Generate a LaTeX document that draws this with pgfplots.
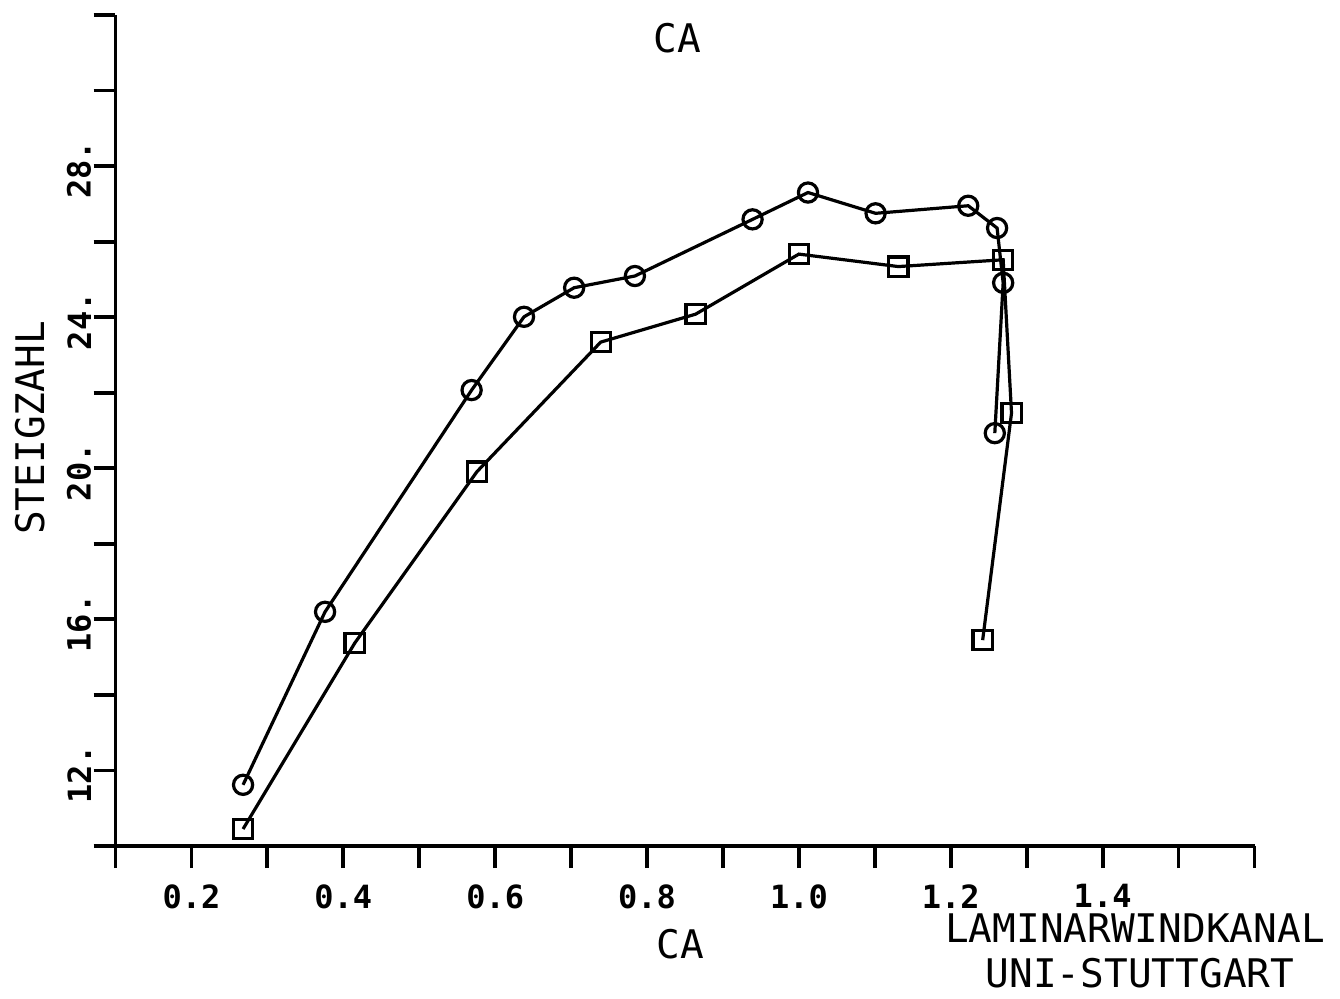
\documentclass[border=0pt]{standalone}
\usepackage{fontspec}
\setmainfont{DejaVu Sans Mono}
\usepackage{pgfplots}
\pgfplotsset{compat=1.18}
\usepackage{pgfplotstable}
\pgfplotstableread{
x y
0.268 11.62
0.376 16.20
0.569 22.07
0.638 24.01
0.704 24.78
0.784 25.09
0.939 26.59
1.012 27.30
1.101 26.75
1.223 26.95
1.261 26.36
1.269 24.91
1.258 20.93
}\circdata
\pgfplotstableread{
x y
0.268 10.45
0.415 15.37
0.576 19.91
0.739 23.34
0.864 24.08
1.000 25.67
1.131 25.34
1.269 25.52
1.280 21.46
1.242 15.45
}\squaredata
\begin{document}
\begin{tikzpicture}[x=1pt,y=1pt]
\path[use as bounding box] (0,0) rectangle (670,499);
\begin{axis}[
  at={(57.75pt,76pt)}, anchor=south west,
  scale only axis, width=569.5pt, height=415.5pt,
  xmin=0.1, xmax=1.6, ymin=10, ymax=32,
  axis x line=bottom, axis y line=left,
  axis line style={-, line width=1.9pt, black},
  tick align=outside, major tick length=11pt,
  every tick/.style={line width=1.9pt, black},
  xtick={0.1,0.2,0.3,0.4,0.5,0.6,0.7,0.8,0.9,1.0,1.1,1.2,1.3,1.4,1.5,1.6},
  xticklabels={,0.2,,0.4,,0.6,,0.8,,1.0,,1.2,,1.4,,},
  ytick={10,12,14,16,18,20,22,24,26,28,30,32},
  yticklabels={,12.,,16.,,20.,,24.,,28.,,},
  /pgf/number format/assume math mode=true,
  xticklabel style={font=\bfseries\fontsize{16}{16}\selectfont, anchor=north, inner sep=1pt, yshift=-7pt},
  yticklabel style={font=\bfseries\fontsize{16}{16}\selectfont, rotate=90, anchor=south, inner sep=1pt, xshift=-2pt},
  clip=false,
]
\addplot[black, line width=1.6pt, mark=o, mark size=4.8pt,
  mark options={fill=white, line width=1.6pt}] table[x=x,y=y] {\circdata};
\addplot[black, line width=1.6pt, mark=square, mark size=4.8pt,
  mark options={fill=white, line width=1.6pt}] table[x=x,y=y] {\squaredata};
\end{axis}
\node[font=\fontsize{19.7}{20}\selectfont] at (338.5,480) {CA};
\node[font=\fontsize{19.7}{20}\selectfont] at (340,27) {CA};
\node[font=\fontsize{19.7}{20}\selectfont] at (567.5,35) {LAMINARWINDKANAL};
\node[font=\fontsize{19.7}{20}\selectfont] at (570,12.5) {UNI-STUTTGART};
\node[font=\fontsize{19.7}{20}\selectfont, rotate=90] at (15,285) {STEIGZAHL};
\end{tikzpicture}
\end{document}
